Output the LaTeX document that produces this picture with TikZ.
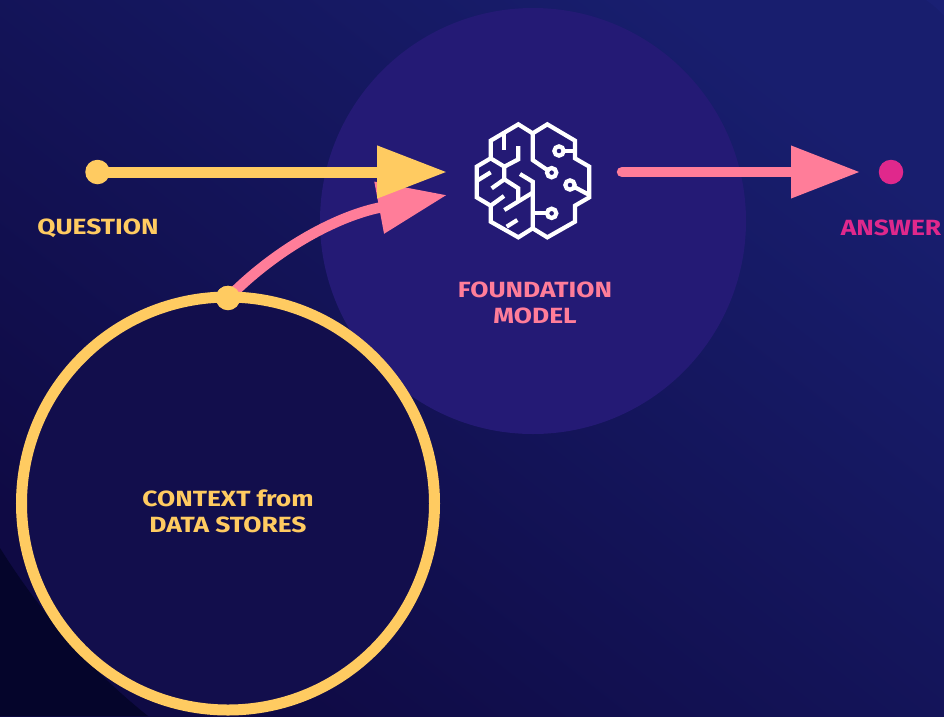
\documentclass[tikz,border=0pt]{standalone}
\usepackage{fontspec}
\setmainfont[FakeStretch=1.2]{Fira Sans}
\usetikzlibrary{arrows.meta}
\definecolor{bgA}{HTML}{0F0A44}
\definecolor{bgB}{HTML}{181E6E}
\definecolor{bgDark}{HTML}{05052B}
\definecolor{bgCorner}{HTML}{1A2074}
\definecolor{founder}{HTML}{241A75}
\definecolor{ctxfill}{HTML}{120E4C}
\definecolor{gold}{HTML}{FFCB61}
\definecolor{rose}{HTML}{FF7D99}
\definecolor{mag}{HTML}{E0288C}
\tikzset{
  lbl/.style={font=\bfseries\fontsize{22}{25.5}\selectfont, align=center, inner sep=0pt},
  dot/.style={circle, fill=#1, draw=none, inner sep=0pt, minimum size=24.5pt},
  goldarrow/.style={draw=gold, line width=11pt, -{Triangle[length=70pt,width=50pt,fill=gold]}},
  rosearrow/.style={draw=rose, line width=10.5pt, line cap=round, -{Triangle[length=69pt,width=50pt,fill=rose]}},
  brainline/.style={draw=white, line width=4.2pt, line join=miter, line cap=butt},
}
\begin{document}
\begin{tikzpicture}[x=1pt,y=-1pt]
\useasboundingbox (0,0) rectangle (944,716);
\begin{scope}
\clip (0,0) rectangle (944,716);
\shade[bottom color=bgA, top color=bgB, shading angle=-38] (0,0) rectangle (944,716);
% background dark corner
\fill[bgDark] (0,548) .. controls (40,612) and (90,670) .. (148,716) -- (0,716) -- cycle;
% top right corner
\fill[bgCorner] (926,0) .. controls (933,5) and (939,10) .. (944,16) -- (944,0) -- cycle;
% foundation disc
\node[circle, fill=founder, draw=none, minimum size=426pt, inner sep=0pt] (fm) at (533,221) {};
\coordinate (qtip) at (447,172);
\coordinate (ctip) at (447,195);
\coordinate (mstart) at (622,172);
\coordinate (mtip) at (860,172);
% context
\node[dot=gold] (cdot) at (228,298) {};
\draw[rosearrow] (cdot.center) .. controls (278,247) and (340,215) .. (ctip);
\node[circle, draw=gold, fill=ctxfill, line width=11pt, minimum size=413pt, inner sep=0pt] (ctx) at (228,503.5) {};
\node[dot=gold] at (cdot.center) {};
% question
\node[dot=gold] (q) at (97.5,172) {};
\draw[goldarrow] (q.center) -- (qtip);
% output
\draw[rosearrow] (mstart) -- (mtip);
\node[dot=mag] (a) at (891,172) {};
% labels
\node[lbl, text=gold] (ql) at (98,228) {QUESTION};
\node[lbl, text=mag] (al) at (891,228) {ANSWER};
\node[lbl, text=rose] (fl) at (535,303) {FOUNDATION\\MODEL};
\node[lbl, text=gold] (cl) at (228,511.5) {CONTEXT from\\DATA STORES};
% brain icon
\begin{scope}[shift={(460,110)}, x=0.3333pt, y=-0.3333pt]
\draw[brainline] (218,70) -- (175,43) -- (92,92) -- (92,145) -- (50,170) -- (50,262) -- (92,287) -- (92,335) -- (175,382) -- (218,355) -- (262,382) -- (345,335) -- (345,287) -- (388,262) -- (388,170) -- (345,145) -- (345,92) -- (262,43) -- cycle;
\draw[brainline] (218,70) -- (218,150) -- (262,180);
\draw[brainline] (218,355) -- (218,215) -- (180,192);
\draw[brainline] (218,310) -- (260,310);
\draw[brainline] (218,248) -- (133,300);
\draw[brainline] (133,68) -- (133,120);
\draw[brainline] (92,145) -- (133,170) -- (175,148) -- (175,108);
\draw[brainline] (133,170) -- (133,208) -- (95,235);
\draw[brainline] (133,208) -- (175,235) -- (175,272);
\draw[brainline] (50,213) -- (92,187);
\draw[brainline] (92,287) -- (132,258);
\draw[brainline] (140,350) -- (172,330);
\draw[brainline] (345,123) -- (312,123);
\draw[brainline] (388,255) -- (345,232);
\draw[white, line width=4.2pt] (297,123) circle (14);
\draw[white, line width=4.2pt] (275,188) circle (14);
\draw[white, line width=4.2pt] (330,225) circle (14);
\draw[white, line width=4.2pt] (275,310) circle (14);
\end{scope}
\end{scope}
\end{tikzpicture}
\end{document}
